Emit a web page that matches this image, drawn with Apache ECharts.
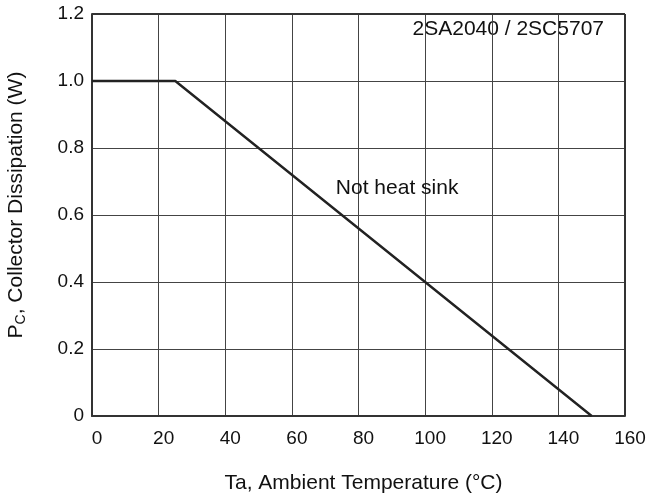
<!DOCTYPE html>
<html><head><meta charset="utf-8">
<script src="https://cdn.jsdelivr.net/npm/echarts@6/dist/echarts.min.js"></script>
<style>html,body{margin:0;padding:0;background:#fff}#c{width:662px;height:495px}</style>
</head><body><div id="c"></div>
<script>
var temps = [0, 25, 150];
var power = [1.0, 1.0, 0];
var xTicks = [0, 20, 40, 60, 80, 100, 120, 140, 160];
var yTicks = [0, 0.2, 0.4, 0.6, 0.8, 1.0, 1.2];
var partLabel = '2SA2040 / 2SC5707';
var curveLabel = 'Not heat sink';
var labelPos = [91.6, 0.68];

var font = '"Liberation Sans", Arial, Helvetica, sans-serif';
var chart = echarts.init(document.getElementById('c'));
chart.setOption({
  animation: false,
  textStyle: {fontFamily: font},
  grid: {left: 92, right: 37, top: 14, bottom: 79, show: false, containLabel: false, outerBoundsMode: 'none'},
  graphic: [{
    type: 'text', right: 58, top: 19,
    style: {text: partLabel, font: '21px ' + font, fill: '#111'}
  }],
  xAxis: {
    type: 'value', min: 0, max: 160, interval: 20,
    name: 'Ta, Ambient Temperature (°C)', nameLocation: 'middle', nameGap: 57,
    nameTextStyle: {fontSize: 21, color: '#111', fontFamily: font, padding: [0, 0, 0, 10]},
    axisLine: {show: true, lineStyle: {color: '#333', width: 2}},
    axisTick: {show: false},
    axisLabel: {fontSize: 19, color: '#111', margin: 13, fontFamily: font, padding: [0, 0, 0, 10],
      formatter: function (v) { return xTicks.indexOf(v) >= 0 ? String(v) : ''; }},
    splitLine: {show: true, lineStyle: {color: '#444', width: 1}}
  },
  yAxis: {
    type: 'value', min: 0, max: 1.2, interval: 0.2,
    name: '{a|P}{b|C}{a|, Collector Dissipation (W)}', nameLocation: 'middle', nameGap: 64, nameRotate: 90,
    nameTextStyle: {color: '#111', fontFamily: font, padding: [0, 0, 0, 20],
      rich: {a: {fontSize: 21, color: '#111', fontFamily: font},
             b: {fontSize: 14, color: '#111', fontFamily: font, verticalAlign: 'bottom', padding: [10, 0, 0, 0]}}},
    axisLine: {show: true, lineStyle: {color: '#333', width: 2}},
    axisTick: {show: false},
    axisLabel: {fontSize: 19, color: '#111', margin: 8, fontFamily: font, padding: [6, 0, 0, 0],
      formatter: function (v) {
        var t = yTicks.filter(function (y) { return Math.abs(y - v) < 1e-9; })[0];
        if (t === undefined) return '';
        return t === 0 ? '0' : t.toFixed(1);
      }},
    splitLine: {show: true, lineStyle: {color: '#444', width: 1}}
  },
  series: [{
    type: 'line', data: temps.map(function (t, i) { return [t, power[i]]; }),
    symbol: 'none', lineStyle: {color: '#222', width: 2.4},
    markPoint: {
      symbol: 'rect', symbolSize: 0,
      label: {show: true, position: 'inside', formatter: curveLabel, fontSize: 21, color: '#111', fontFamily: font},
      data: [{coord: labelPos}]
    }
  }, {
    type: 'line', data: [[160, 0], [160, 1.2]], symbol: 'none', silent: true,
    lineStyle: {color: '#333', width: 2}
  }, {
    type: 'line', data: [[0, 1.2], [160, 1.2]], symbol: 'none', silent: true,
    lineStyle: {color: '#333', width: 2}
  }]
});
</script></body></html>
